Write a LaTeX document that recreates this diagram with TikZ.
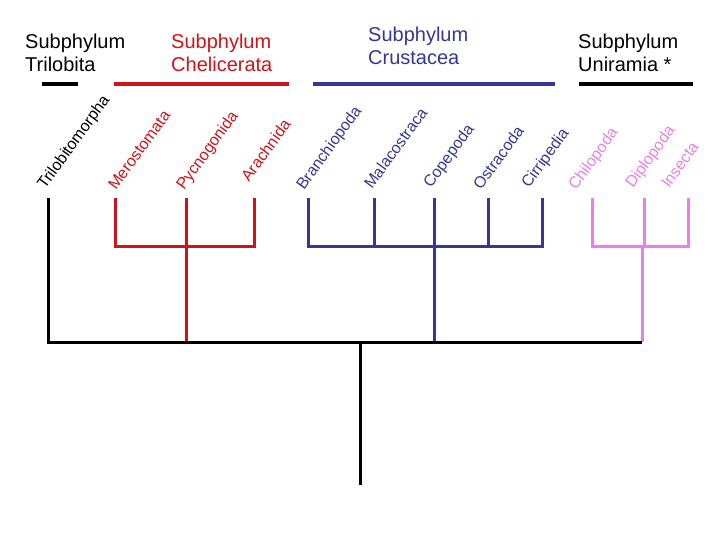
\documentclass[tikz,border=0pt]{standalone}
\usepackage{fontspec}
\setmainfont{Liberation Sans}
\definecolor{chelred}{RGB}{208,18,26}
\definecolor{crusblue}{RGB}{54,54,152}
\definecolor{unipink}{RGB}{232,128,232}
\begin{document}
\begin{tikzpicture}[x=1pt,y=-1pt,
  branch/.style={line width=3pt},
  groupbar/.style={line width=3.5pt},
  taxon/.style={font=\fontsize{16}{19}\selectfont,inner sep=0pt,anchor=base west,rotate=54},
  heading/.style={font=\fontsize{20}{23.5}\selectfont,inner sep=0pt,anchor=north west,align=left}]
\useasboundingbox (0,0) rectangle (720,540);

% headings
\node[heading] (hTri) at (25,33.5) {Subphylum\\Trilobita};
\node[heading,text=chelred] (hChe) at (171,33.5) {Subphylum\\Chelicerata};
\node[heading,text=crusblue] (hCru) at (368,26.5) {Subphylum\\Crustacea};
\node[heading] (hUni) at (578,33.5) {Subphylum\\Uniramia *};

% group bars
\coordinate (b1a) at (42,84);  \coordinate (b1b) at (78,84);
\coordinate (b2a) at (114,84); \coordinate (b2b) at (289,84);
\coordinate (b3a) at (313,84); \coordinate (b3b) at (555,84);
\coordinate (b4a) at (579,84); \coordinate (b4b) at (693,84);
\draw[groupbar] (b1a) -- (b1b);
\draw[groupbar,chelred] (b2a) -- (b2b);
\draw[groupbar,crusblue] (b3a) -- (b3b);
\draw[groupbar] (b4a) -- (b4b);

% taxon labels
\node[taxon] (lTri) at (45,190) {Trilobitomorpha};
\node[taxon,text=chelred] (lMer) at (116,191) {Merostomata};
\node[taxon,text=chelred] (lPyc) at (184,191) {Pycnogonida};
\node[taxon,text=chelred] (lAra) at (249,183) {Arachnida};
\node[taxon,text=crusblue] (lBra) at (304,191) {Branchiopoda};
\node[taxon,text=crusblue] (lMal) at (372,190) {Malacostraca};
\node[taxon,text=crusblue] (lCop) at (431,189) {Copepoda};
\node[taxon,text=crusblue] (lOst) at (481,191) {Ostracoda};
\node[taxon,text=crusblue] (lCir) at (529,189) {Cirripedia};
\node[taxon,text=unipink] (lChi) at (576,191) {Chilopoda};
\node[taxon,text=unipink] (lDip) at (633,189) {Diplopoda};
\node[taxon,text=unipink] (lIns) at (669,189) {Insecta};

% tips
\coordinate (tri) at (48,198);
\coordinate (mer) at (115,198);
\coordinate (pyc) at (186,198);
\coordinate (ara) at (254,198);
\coordinate (bra) at (308,198);
\coordinate (mal) at (374,198);
\coordinate (cop) at (434,198);
\coordinate (ost) at (488,198);
\coordinate (cir) at (542,198);
\coordinate (chi) at (592,198);
\coordinate (dip) at (644,198);
\coordinate (ins) at (688,198);
% junctions
\coordinate (cheJ) at (186,246);
\coordinate (cruJ) at (434,246);
\coordinate (uniJ) at (642,246);
\coordinate (rootL) at (48,342);
\coordinate (cheB) at (186,342);
\coordinate (cruB) at (434,342);
\coordinate (uniB) at (642,342);
\coordinate (rootM) at (360,342);
\coordinate (rootEnd) at (360,485);

% Chelicerata
\draw[branch,chelred] (mer) -- (mer|-cheJ) -- (ara|-cheJ) -- (ara);
\draw[branch,chelred] (pyc) -- (cheB);
% Crustacea
\draw[branch,crusblue] (bra) -- (bra|-cruJ) -- (cir|-cruJ) -- (cir);
\draw[branch,crusblue] (mal) -- (mal|-cruJ);
\draw[branch,crusblue] (ost) -- (ost|-cruJ);
\draw[branch,crusblue] (cop) -- (cruB);
% Uniramia
\draw[branch,unipink] (chi) -- (chi|-uniJ) -- (ins|-uniJ) -- (ins);
\draw[branch,unipink] (dip) -- (dip|-uniJ);
\draw[branch,unipink] (uniJ) -- (uniB);
% root
\draw[branch] (tri) -- (rootL) -- (uniB);
\draw[branch] (rootM) -- (rootEnd);
\end{tikzpicture}
\end{document}
